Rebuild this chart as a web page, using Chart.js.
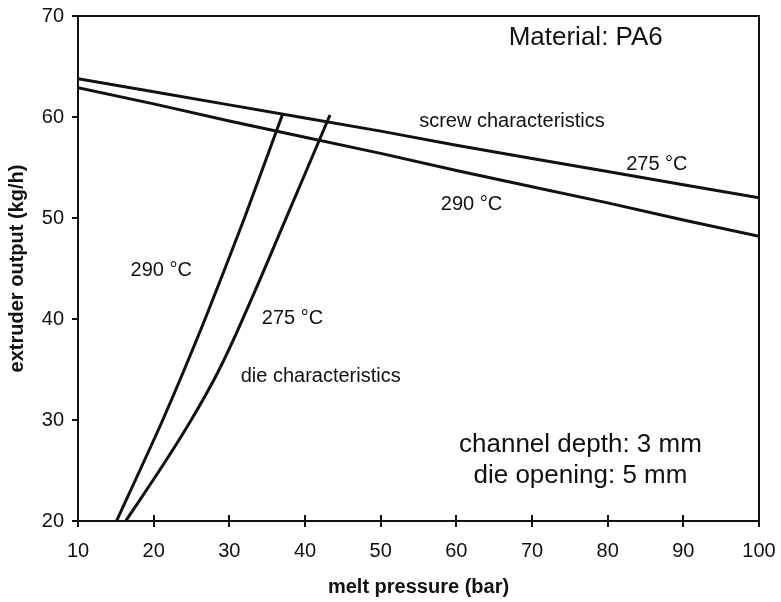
<!DOCTYPE html>
<html>
<head>
<meta charset="utf-8">
<script src="https://cdn.jsdelivr.net/npm/chart.js@4/dist/chart.umd.min.js"></script>
<style>
  html, body { margin: 0; padding: 0; background: #fff; }
  #wrap { width: 781px; height: 602px; }
</style>
</head>
<body>
<div id="wrap"><canvas id="extruderChart" width="781" height="602"></canvas></div>
<script>
// screw characteristics (output vs. melt pressure)
const screwPressure = [10, 20, 30, 40, 50, 60, 70, 80, 90, 100];
const screw275 = [63.8, 62.5, 61.2, 59.9, 58.6, 57.2, 55.9, 54.6, 53.3, 52.0];
const screw290 = [62.9, 61.3, 59.6, 58.0, 56.4, 54.7, 53.1, 51.5, 49.8, 48.2];

// die characteristics
const die290Pressure = [15.1, 21.2, 26.8, 32.0, 37.0];
const die290Output = [20, 30, 40, 50, 60.2];
const die275Pressure = [16.3, 20.5, 24.4, 28.4, 32.3, 37.8, 43.3];
const die275Output = [20, 24.7, 29.3, 34.6, 40.9, 50.5, 60.2];

const xTicks = [10, 20, 30, 40, 50, 60, 70, 80, 90, 100];
const yTicks = [20, 30, 40, 50, 60, 70];

const FONT = "'Liberation Sans', Arial, Helvetica, sans-serif";

function pts(xs, ys) {
  return xs.map((x, i) => ({ x: x, y: ys[i] }));
}

function curve(xs, ys, tension) {
  return {
    data: pts(xs, ys),
    showLine: true,
    borderColor: '#111',
    borderWidth: 3,
    pointRadius: 0,
    tension: tension,
    fill: false
  };
}

// text written inside the plot, placed in data units
const notes = [
  { text: 'Material: PA6', x: 77.1, y: 67.13, size: 26 },
  { text: 'screw characteristics', x: 67.35, y: 59.03, size: 20 },
  { text: '275 °C', x: 86.5, y: 54.74, size: 20 },
  { text: '290 °C', x: 62.0, y: 50.77, size: 20 },
  { text: '290 °C', x: 21.0, y: 44.26, size: 20 },
  { text: '275 °C', x: 38.35, y: 39.54, size: 20 },
  { text: 'die characteristics', x: 42.07, y: 33.76, size: 20 },
  { text: 'channel depth: 3 mm', x: 76.4, y: 26.82, size: 26 },
  { text: 'die opening: 5 mm', x: 76.4, y: 23.75, size: 26 }
];

const notesPlugin = {
  id: 'notes',
  afterDatasetsDraw(chart) {
    const { ctx, scales: { x, y }, chartArea: a } = chart;
    ctx.save();
    // frame round the plot
    ctx.strokeStyle = '#111';
    ctx.lineWidth = 2;
    ctx.strokeRect(a.left, a.top, a.right - a.left, a.bottom - a.top);
    // x ticks also poke a little into the plot
    ctx.beginPath();
    xTicks.forEach(v => {
      const px = Math.round(x.getPixelForValue(v));
      ctx.moveTo(px, a.bottom);
      ctx.lineTo(px, a.bottom - 6);
    });
    ctx.stroke();
    ctx.fillStyle = '#111';
    ctx.textAlign = 'center';
    ctx.textBaseline = 'alphabetic';
    notes.forEach(n => {
      ctx.font = n.size + 'px ' + FONT;
      ctx.fillText(n.text, x.getPixelForValue(n.x), y.getPixelForValue(n.y));
    });
    ctx.restore();
  }
};

new Chart(document.getElementById('extruderChart'), {
  type: 'scatter',
  data: {
    datasets: [
      curve(screwPressure, screw275, 0),
      curve(screwPressure, screw290, 0),
      curve(die290Pressure, die290Output, 0.2),
      curve(die275Pressure, die275Output, 0.4)
    ]
  },
  options: {
    responsive: false,
    animation: false,
    layout: { padding: { left: 0, right: 22, top: 16, bottom: 0 } },
    plugins: {
      legend: { display: false },
      tooltip: { enabled: false }
    },
    scales: {
      x: {
        type: 'linear',
        min: 10,
        max: 100,
        afterFit(scale) {
          scale.height = 81;
          scale.paddingLeft = 0;
          scale.paddingRight = 0;
        },
        afterBuildTicks(scale) { scale.ticks = xTicks.map(v => ({ value: v })); },
        grid: { drawOnChartArea: false, tickLength: 6, color: '#111', lineWidth: 2 },
        border: { color: '#111', width: 2 },
        ticks: { color: '#111', padding: 12, font: { family: FONT, size: 20 } },
        title: {
          display: true,
          text: 'melt pressure (bar)',
          color: '#111',
          padding: { top: 0, bottom: 3 },
          font: { family: FONT, size: 20, weight: 'bold' }
        }
      },
      y: {
        type: 'linear',
        min: 20,
        max: 70,
        afterFit(scale) {
          scale.width = 78;
          scale.paddingTop = 0;
          scale.paddingBottom = 0;
        },
        afterBuildTicks(scale) { scale.ticks = yTicks.map(v => ({ value: v })); },
        grid: { drawOnChartArea: false, tickLength: 6, color: '#111', lineWidth: 2 },
        border: { color: '#111', width: 2 },
        ticks: { color: '#111', padding: 8, font: { family: FONT, size: 20 } },
        title: {
          display: true,
          text: 'extruder output (kg/h)',
          color: '#111',
          padding: { top: 5, bottom: 0 },
          font: { family: FONT, size: 20, weight: 'bold' }
        }
      }
    }
  },
  plugins: [notesPlugin]
});
</script>
</body>
</html>
